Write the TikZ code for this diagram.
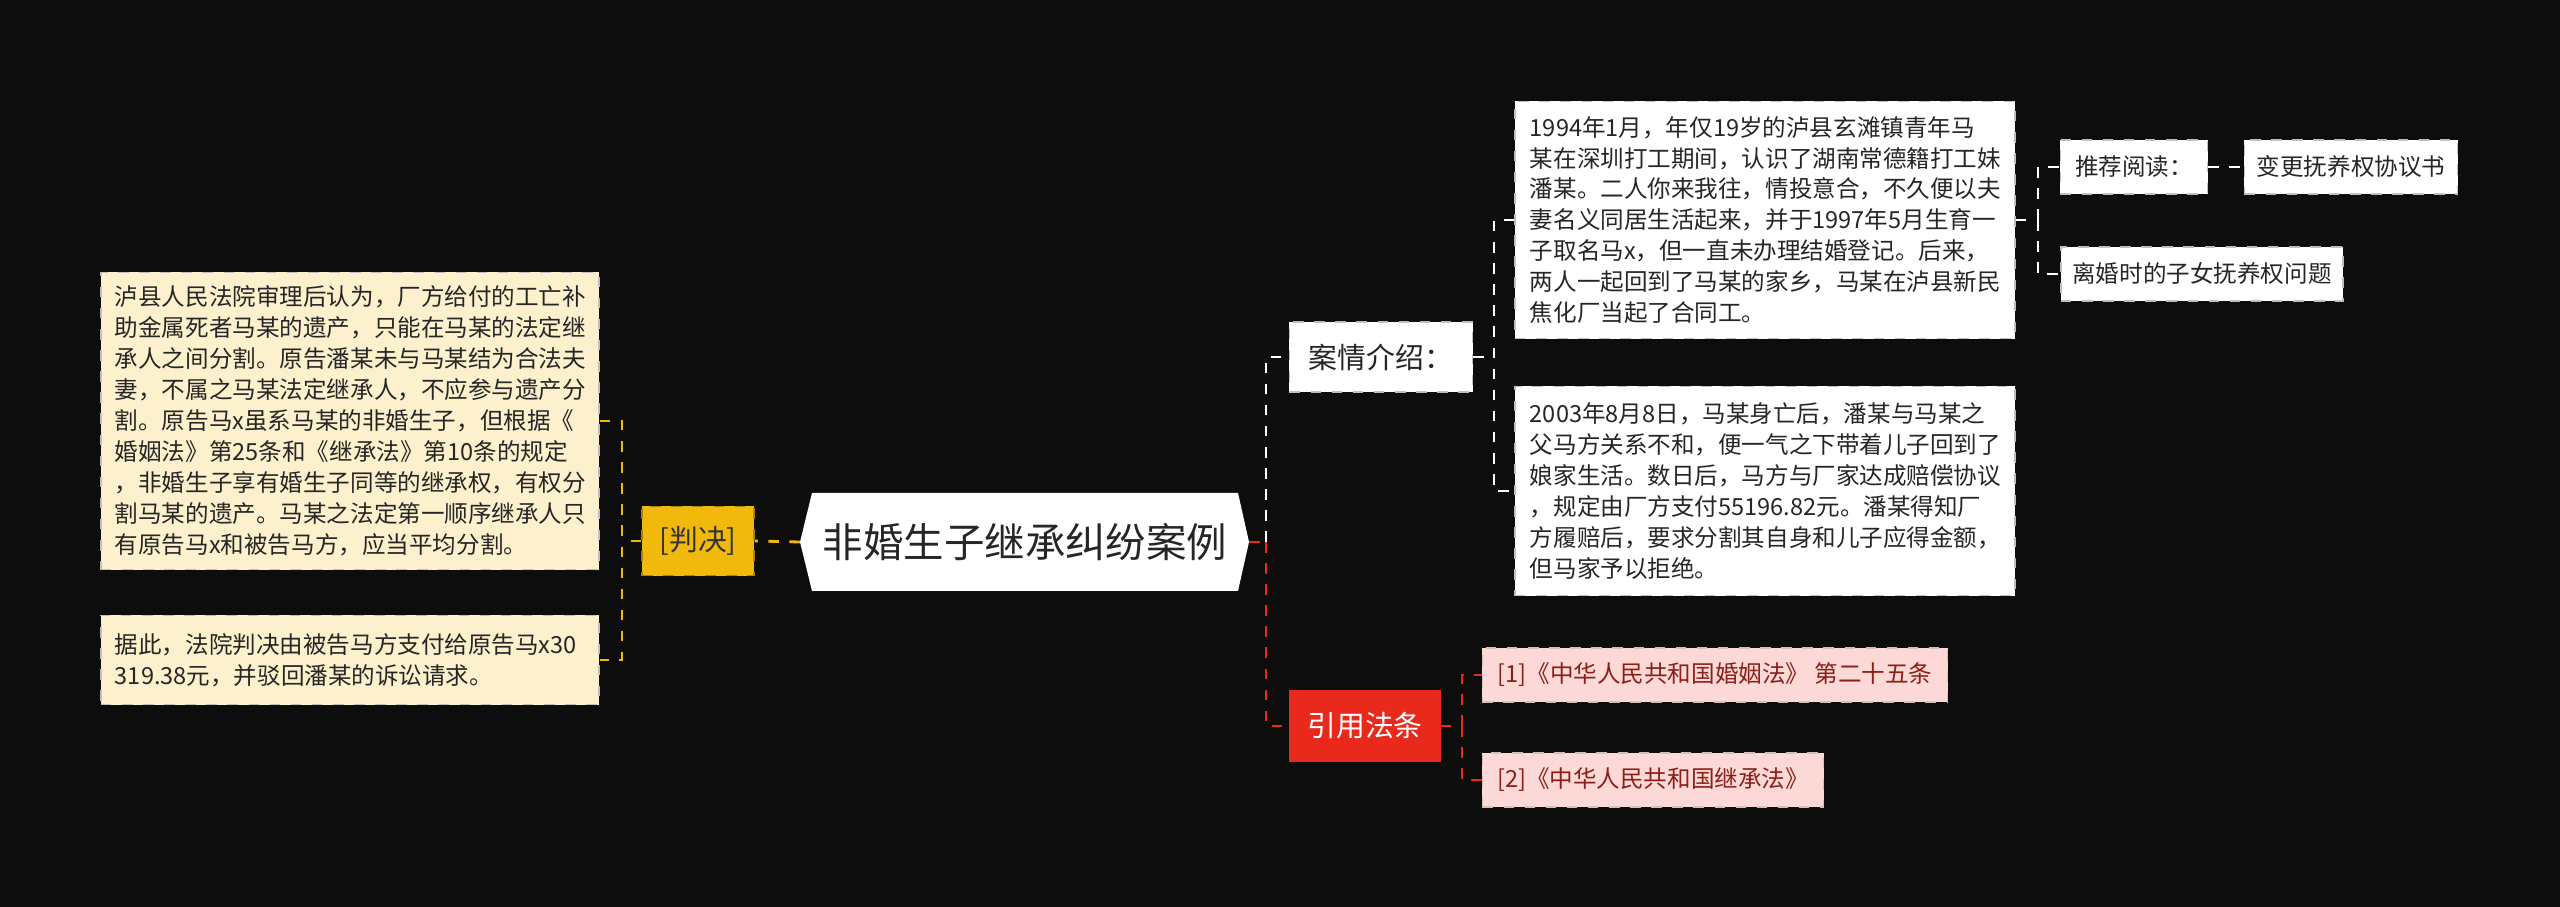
\documentclass[tikz,border=0pt]{standalone}
\usepackage{fontspec}
\setmainfont{Noto Sans CJK SC}
\usepackage{tikz}
\usetikzlibrary{positioning,calc}
\definecolor{bgc}{HTML}{0D0D0D}
\definecolor{judc}{HTML}{F0B90B}
\definecolor{creamc}{HTML}{FDF0CC}
\definecolor{redc}{HTML}{E8291C}
\definecolor{pinkc}{HTML}{FCD9D6}
\definecolor{lawtext}{HTML}{8A1F17}
\tikzstyle{txt}    = [fill=white, draw=gray!50, dashed, align=left, inner sep=0pt, text=black!85, font=\fontsize{6.7}{8.8}\selectfont]
\tikzstyle{cream}  = [txt, fill=creamc]
\tikzstyle{law}    = [txt, fill=pinkc, draw=pinkc!70!gray, text=lawtext]
\tikzstyle{midbox} = [inner sep=0pt, font=\fontsize{8.2}{10}\selectfont]
\tikzstyle{wline}  = [white, dashed, thick]
\tikzstyle{rline}  = [redc, dashed, thick]
\tikzstyle{yline}  = [judc, dashed, thick]

\begin{document}
\begin{tikzpicture}[x=0.01cm, y=-0.01cm]
        \fill[bgc] (0,0) rectangle (2560,907);
        % root
        \coordinate (R) at (1025,542);
        \fill[white] (812,493) -- (1238,493) -- (1249,542) -- (1238,591) -- (812,591) -- (800,542) -- cycle;
        \node[font=\fontsize{11.5}{13}\selectfont, text=black!85] (root) at (R) {非婚生子继承纠纷案例};
        \coordinate (rootW) at (800,542);
        \coordinate (rootE) at (1249,542);

        % left side
        \node[midbox, fill=judc, draw=judc!70!black, dashed, minimum width=1.12cm, minimum height=0.69cm, text=black!80] (jud) at (698,541) {[判决]};
        \node[cream, minimum width=4.98cm, minimum height=2.97cm, text width=4.7cm] (L1) at (350,421) {泸县人民法院审理后认为，厂方给付的工亡补\\助金属死者马某的遗产，只能在马某的法定继\\承人之间分割。原告潘某未与马某结为合法夫\\妻，不属之马某法定继承人，不应参与遗产分\\割。原告马x虽系马某的非婚生子，但根据《\\婚姻法》第25条和《继承法》第10条的规定\\，非婚生子享有婚生子同等的继承权，有权分\\割马某的遗产。马某之法定第一顺序继承人只\\有原告马x和被告马方，应当平均分割。};
        \node[cream, minimum width=4.98cm, minimum height=0.89cm, text width=4.7cm] (L2) at (350,660) {据此，法院判决由被告马方支付给原告马x30\\319.38元，并驳回潘某的诉讼请求。};
        \coordinate (jx) at (622,541);
        \draw[yline] (rootW) -- (jud.east);
        \draw[yline] (jud.west) -- (jx);
        \draw[yline] (L1.east) -| (jx) |- (L2.east);

        % right side
        \node[midbox, fill=white, draw=gray!50, dashed, minimum width=1.83cm, minimum height=0.7cm, text=black!85] (case) at (1381,357) {案情介绍：};
        \node[midbox, fill=redc, draw=redc, minimum width=1.5cm, minimum height=0.7cm, text=white] (cite) at (1365,726) {引用法条};
        \coordinate (rx) at (1266,542);
        \draw[rline] (rootE) -- (rx);
        \draw[wline] (rx) |- (case.west);
        \draw[rline] (rx) |- (cite.west);

        \node[txt, minimum width=5cm, minimum height=2.37cm, text width=4.7cm] (C1) at (1765,220) {1994年1月，年仅19岁的泸县玄滩镇青年马\\某在深圳打工期间，认识了湖南常德籍打工妹\\潘某。二人你来我往，情投意合，不久便以夫\\妻名义同居生活起来，并于1997年5月生育一\\子取名马x，但一直未办理结婚登记。后来，\\两人一起回到了马某的家乡，马某在泸县新民\\焦化厂当起了合同工。};
        \node[txt, minimum width=5cm, minimum height=2.09cm, text width=4.7cm] (C2) at (1765,491) {2003年8月8日，马某身亡后，潘某与马某之\\父马方关系不和，便一气之下带着儿子回到了\\娘家生活。数日后，马方与厂家达成赔偿协议\\，规定由厂方支付55196.82元。潘某得知厂\\方履赔后，要求分割其自身和儿子应得金额，\\但马家予以拒绝。};
        \coordinate (cx) at (1494,357);
        \draw[wline] (case.east) -- (cx);
        \draw[wline] (C1.west) -| (cx) |- (C2.west);

        \node[txt, minimum width=1.47cm, minimum height=0.54cm, align=center] (rec) at (2134,167) {推荐阅读：};
        \node[txt, minimum width=2.13cm, minimum height=0.54cm, align=center] (chg) at (2351,167) {变更抚养权协议书};
        \node[txt, minimum width=2.82cm, minimum height=0.54cm, align=center] (div) at (2202,274) {离婚时的子女抚养权问题};
        \coordinate (dx) at (2038,220);
        \draw[wline] (C1.east) -- (dx);
        \draw[wline] (dx) |- (rec.west);
        \draw[wline] (dx) |- (div.west);
        \draw[wline] (rec.east) -- (chg.west);

        \node[law, minimum width=4.65cm, minimum height=0.54cm, align=center] (law1) at (1715,675) {[1]《中华人民共和国婚姻法》 第二十五条};
        \node[law, minimum width=3.41cm, minimum height=0.54cm, align=center] (law2) at (1653,780) {[2]《中华人民共和国继承法》};
        \coordinate (lx) at (1462,726);
        \draw[rline] (cite.east) -- (lx);
        \draw[rline] (lx) |- (law1.west);
        \draw[rline] (lx) |- (law2.west);
\end{tikzpicture}
\end{document}
